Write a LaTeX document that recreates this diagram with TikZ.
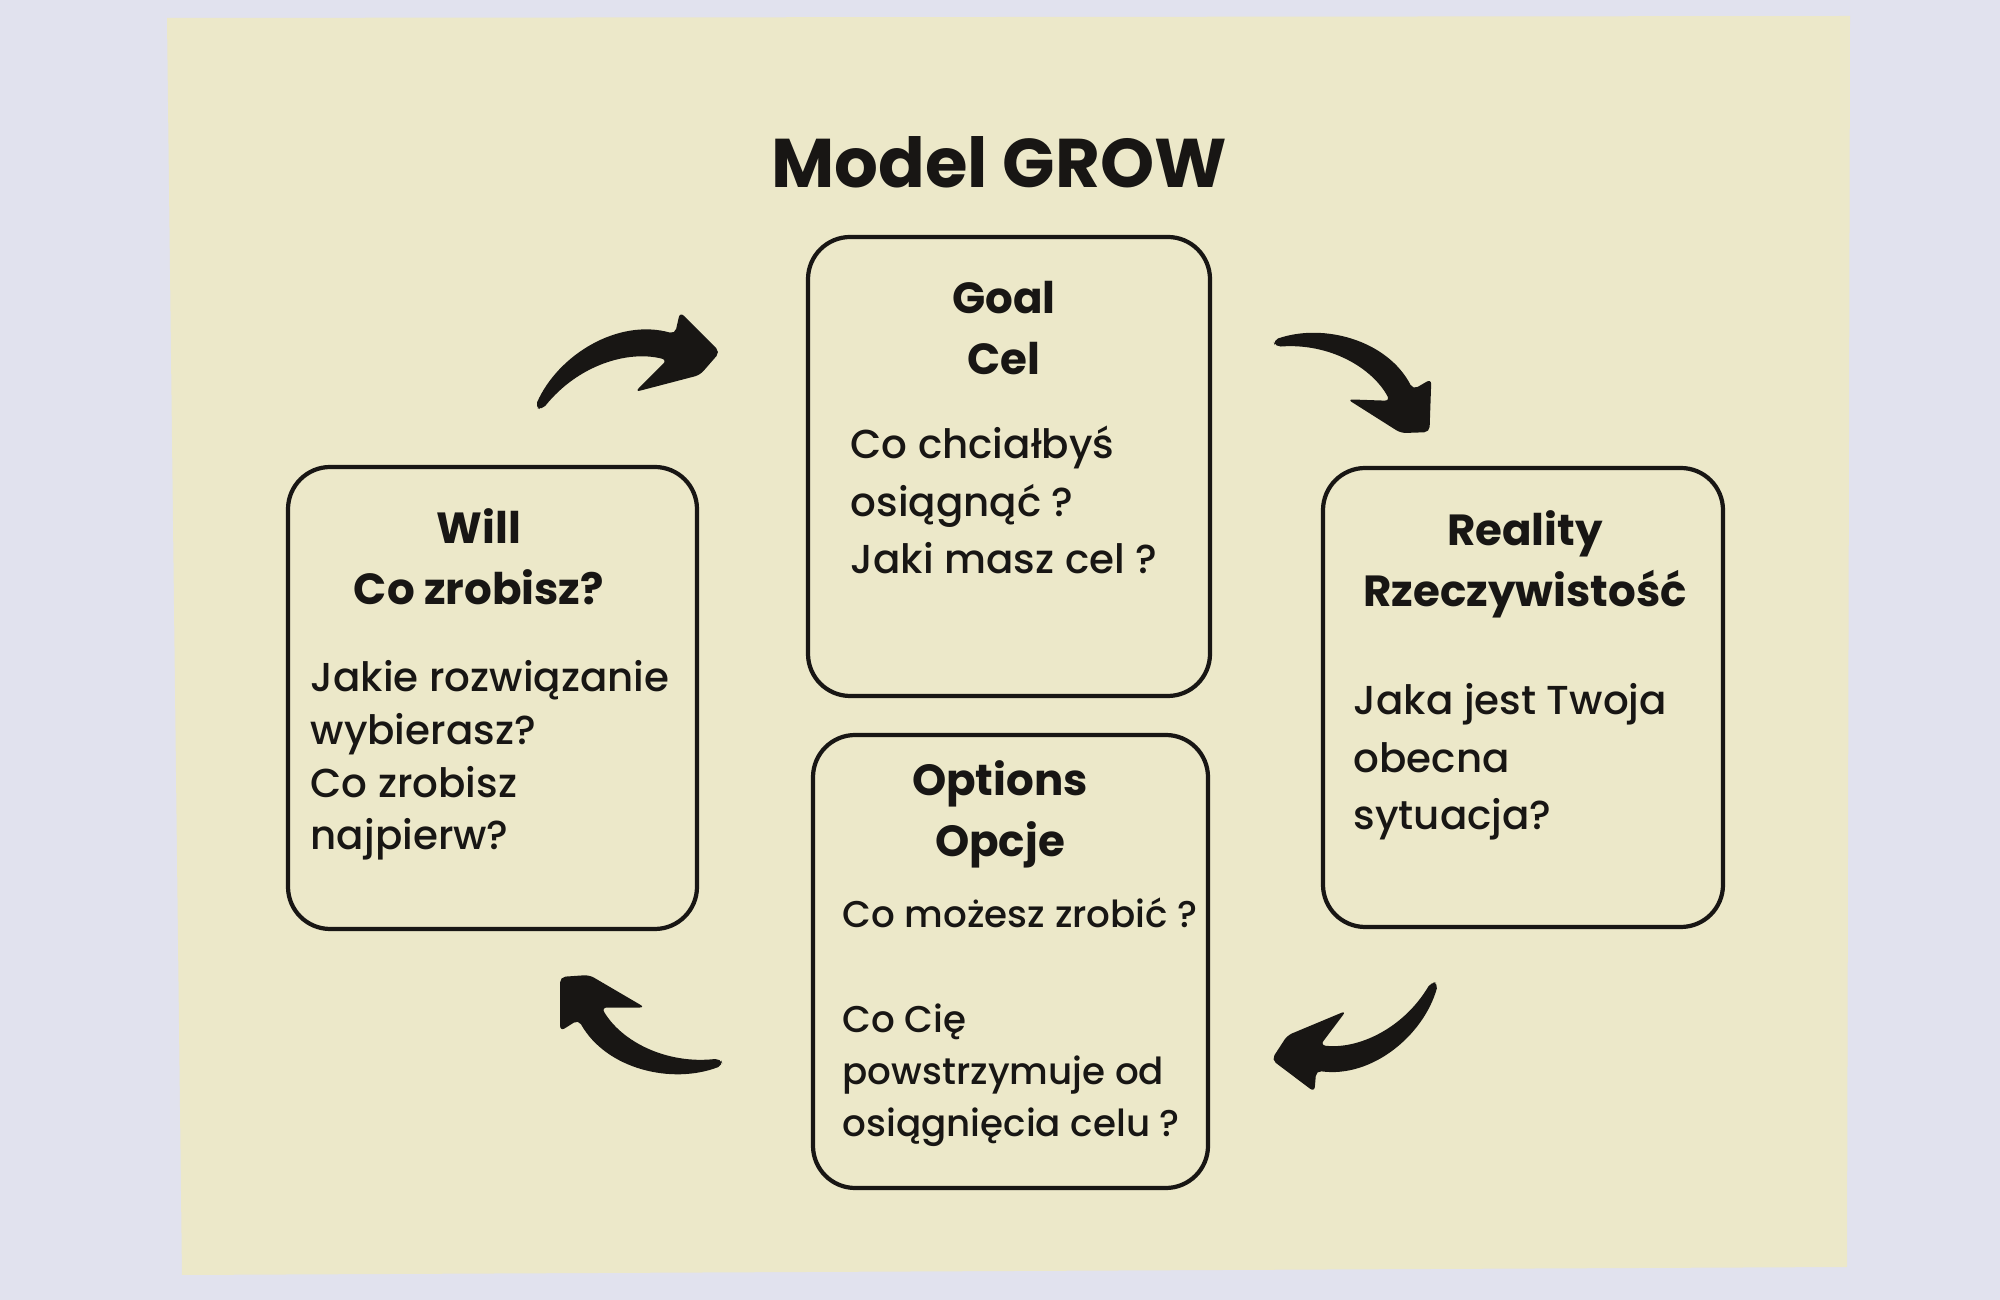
\documentclass[tikz,border=0pt]{standalone}
\usepackage{fontspec}
\setmainfont{Poppins}[BoldFont={Poppins Bold}]
\newfontfamily\bodyfont{Poppins Medium}
\usepackage{tikz}
\definecolor{paper}{RGB}{225,226,238}
\definecolor{cloth}{RGB}{236,232,201}
\definecolor{ink}{RGB}{24,22,20}
\tikzset{
  card/.style={draw=ink, line width=1.2pt, rounded corners=12pt, inner sep=0pt},
  head/.style={font=\fontsize{12.4}{17.6}\selectfont\bfseries, align=center, anchor=base, text=ink, inner sep=0pt},
  body/.style={font=\bodyfont\fontsize{11.5}{16.5}\selectfont, align=left, anchor=base west, text=ink, inner sep=0pt},
  swoosh/.pic={
    \fill[ink, rounded corners=1.5pt] (-0.93,-0.47) .. controls (-0.7,0.05) and (-0.1,0.42) .. (0.47,0.26)
      -- (0.52,0.48) -- (0.92,0.08) -- (0.72,-0.15) -- (0.07,-0.32) -- (0.39,0)
      .. controls (0.0,0.1) and (-0.5,-0.05) .. (-0.86,-0.5) -- cycle;
  }
}

\begin{document}
\begin{tikzpicture}
\useasboundingbox (0,0) rectangle (20,-13);
\fill[paper] (0,0) rectangle (20,-13);
\fill[cloth] (1.67,-0.18) -- (18.50,-0.16) -- (18.47,-12.67) -- (1.82,-12.75) -- cycle;

\node[font=\fontsize{19.6}{20}\selectfont\bfseries, text=ink, anchor=base, inner sep=0pt] (title) at (9.99,-1.88) {Model GROW};

\node[card, minimum width=4.02cm, minimum height=4.59cm] (goal) at (10.09,-4.665) {};
\node[card, minimum width=4.00cm, minimum height=4.59cm] (reality) at (15.23,-6.975) {};
\node[card, minimum width=3.95cm, minimum height=4.53cm] (options) at (10.105,-9.615) {};
\node[card, minimum width=4.09cm, minimum height=4.62cm] (will) at (4.925,-6.98) {};

\node[head] (goal-head) at (10.04,-3.75) {Goal\\Cel};
\node[body] (goal-text) at (8.50,-5.74) {Co chciałbyś\\osiągnąć ?\\Jaki masz cel ?};

\node[head] (reality-head) at (15.25,-6.07) {Reality\\Rzeczywistość};
\node[body] (reality-text) at (13.53,-8.30) {Jaka jest Twoja\\obecna\\sytuacja?};

\node[head] (options-head) at (10.00,-8.57) {Options\\Opcje};
\node[body, font=\bodyfont\fontsize{10.6}{14.9}\selectfont] (options-text) at (8.42,-11.37)
  {Co możesz zrobić ?\\\mbox{}\\Co Cię\\powstrzymuje od\\osiągnięcia celu ?};

\node[head] (will-head) at (4.79,-6.05) {Will\\Co zrobisz?};
\node[body, font=\bodyfont\fontsize{11.5}{15}\selectfont] (will-text) at (3.10,-8.50)
  {Jakie rozwiązanie\\wybierasz?\\Co zrobisz\\najpierw?};

\pic at (6.28,-3.60) {swoosh};
\pic[rotate=-47, scale=.94] at (13.65,-3.74) {swoosh};
\pic[rotate=-172, scale=.95] at (13.57,-10.40) {swoosh};
\pic[rotate=135, scale=.96] at (6.28,-10.34) {swoosh};
\end{tikzpicture}
\end{document}
